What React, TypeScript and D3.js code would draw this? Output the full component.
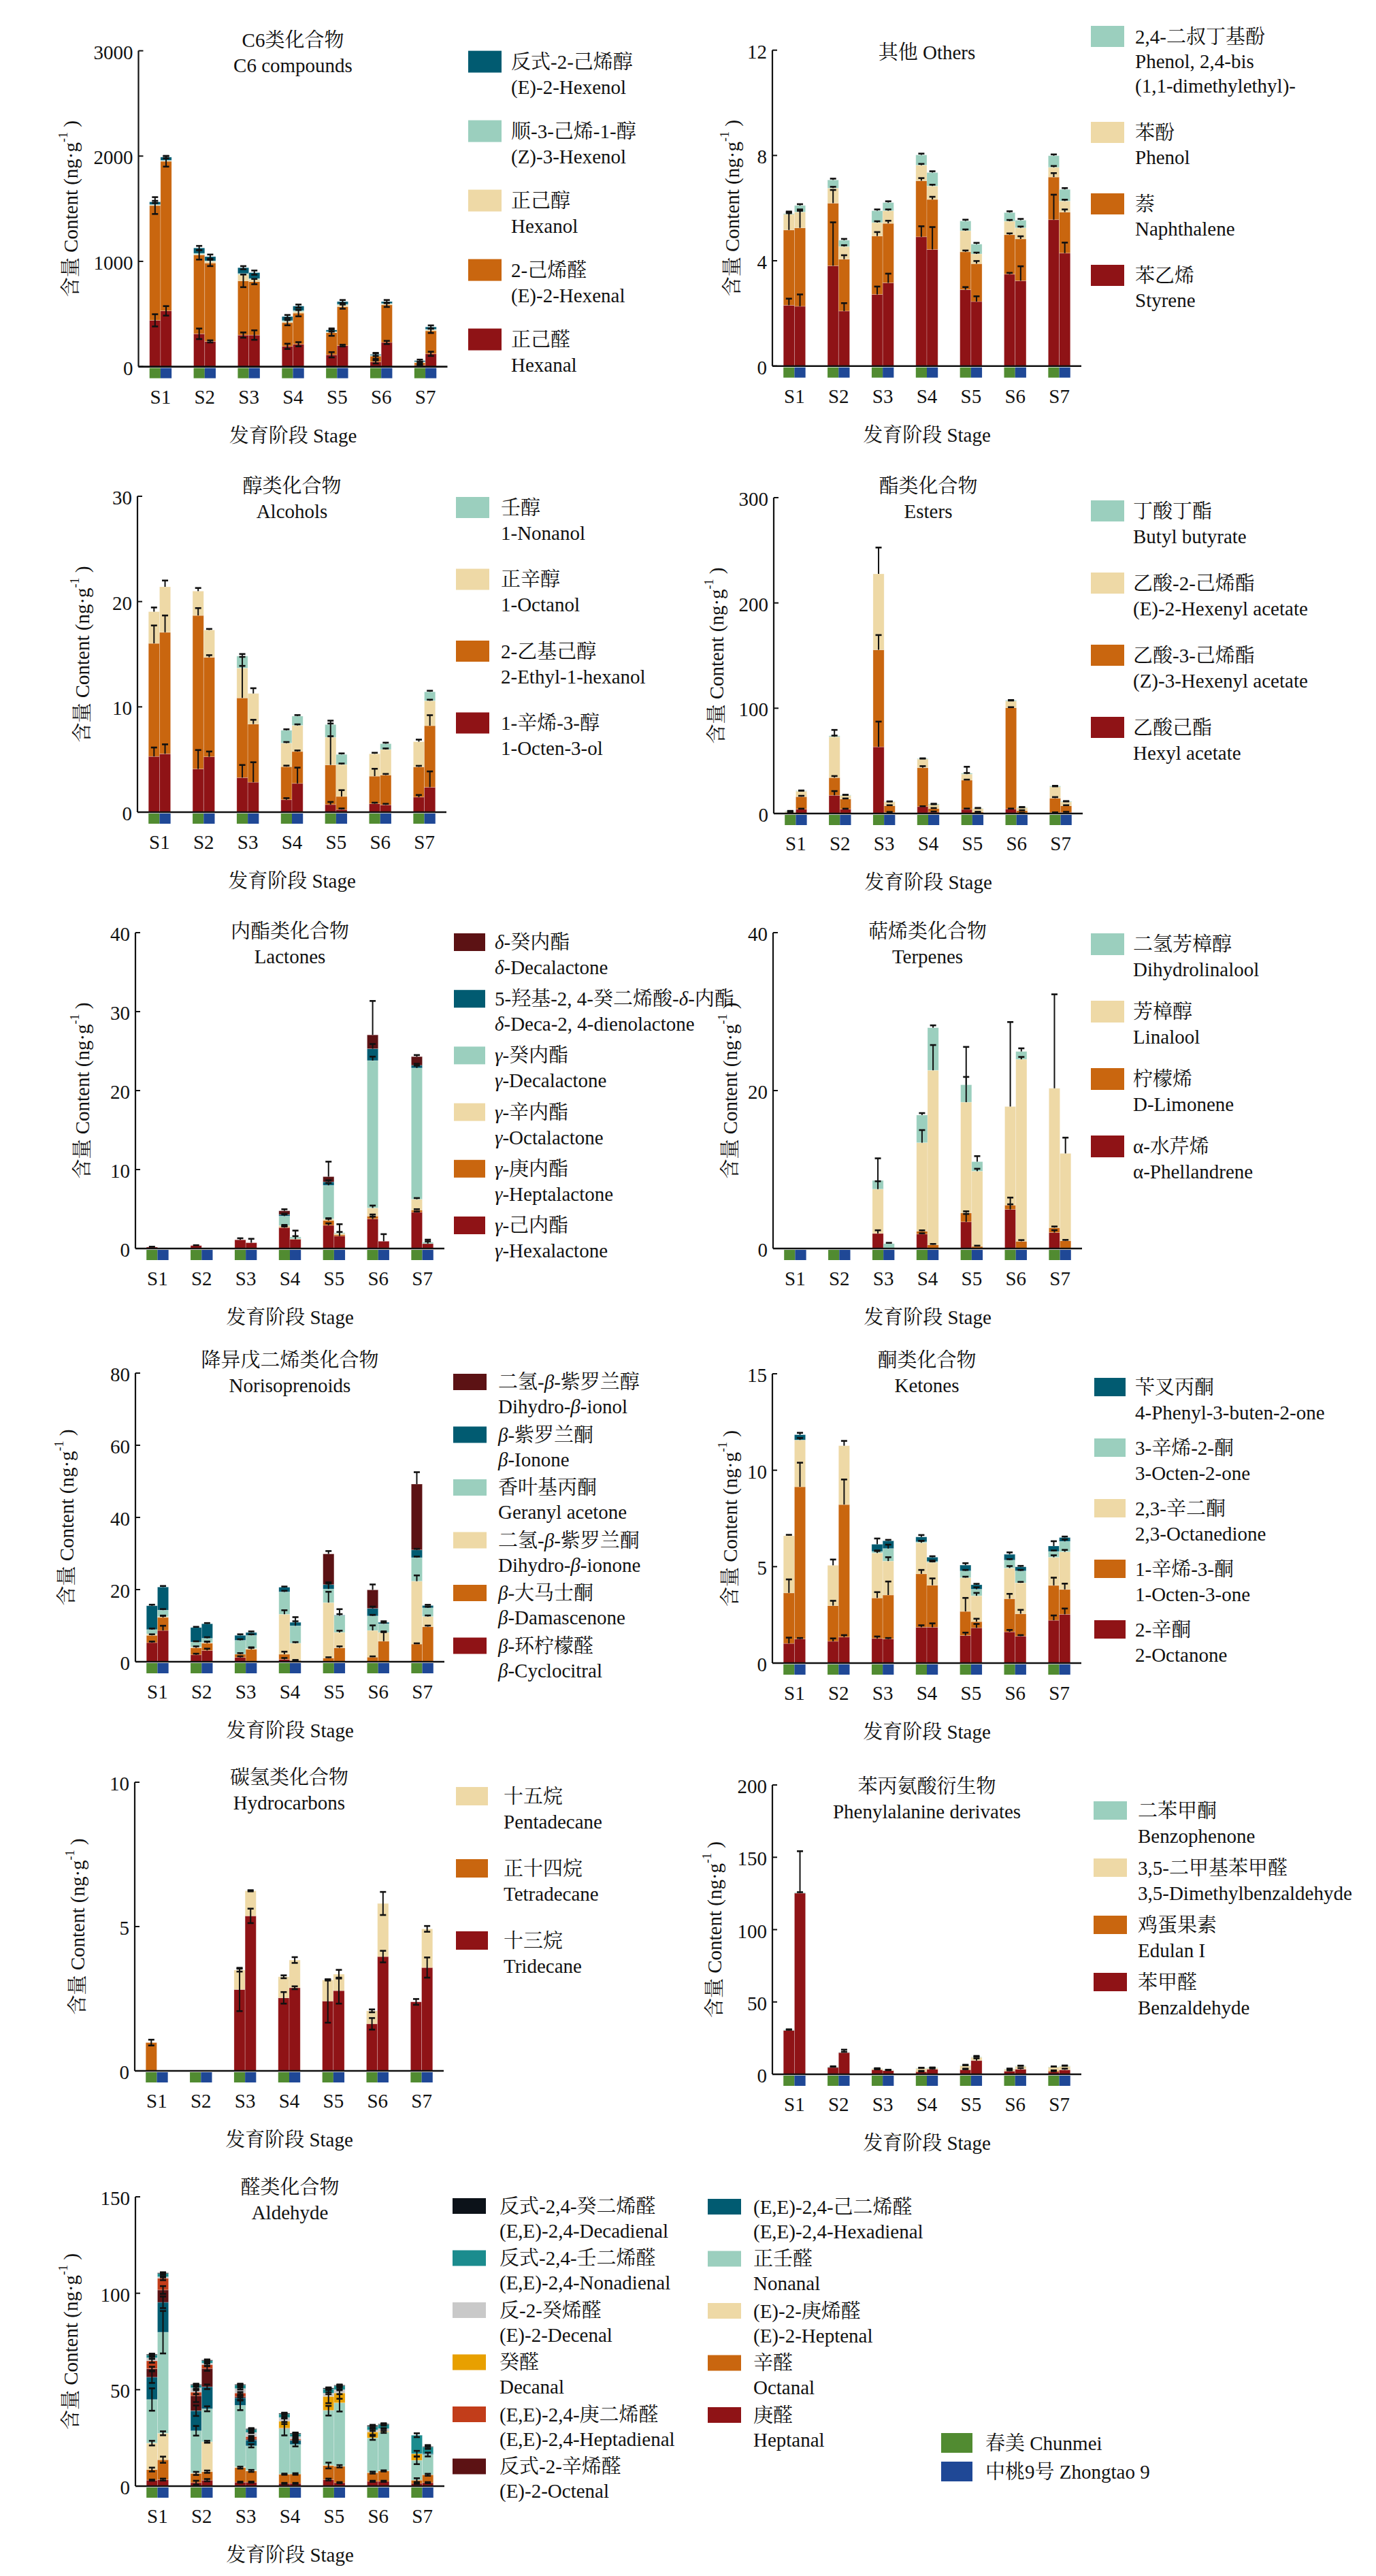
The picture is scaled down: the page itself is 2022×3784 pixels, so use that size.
import { scaleBand, scaleLinear, stack } from "d3";

// 通用颜色
const RED = "#8f1316";
const ORANGE = "#c9660f";
const CREAM = "#eed9a6";
const MINT = "#9bcfbe";
const TEAL = "#015b71";
const MAROON = "#5c1214";

const stages = ["S1", "S2", "S3", "S4", "S5", "S6", "S7"];
const cultivarNames = ["春美 Chunmei", "中桃9号 Zhongtao 9"];
const cultivarColors = ["#518b31", "#1f4896"];
const Z7 = [0, 0, 0, 0, 0, 0, 0];

// C6 compounds (stack order bottom -> top)
const c6Names = ["正己醛", "2-己烯醛", "正己醇", "顺-3-己烯-1-醇", "反式-2-己烯醇"];
const c6English = ["Hexanal", "(E)-2-Hexenal", "Hexanol", "(Z)-3-Hexenol", "(E)-2-Hexenol"];
const c6Colors = [RED, ORANGE, CREAM, MINT, TEAL];
const c6Chunmei = [
  [440, 312, 300, 193, 113, 45, 15],
  [1090, 750, 515, 225, 210, 55, 22],
  [5, 5, 60, 10, 5, 5, 5],
  [5, 10, 10, 10, 5, 3, 5],
  [25, 50, 55, 38, 15, 8, 10],
];
const c6Zhongtao = [
  [530, 240, 300, 213, 200, 230, 122],
  [1420, 745, 508, 295, 370, 357, 218],
  [5, 15, 20, 15, 15, 8, 10],
  [5, 5, 10, 10, 8, 5, 5],
  [30, 40, 55, 42, 25, 18, 22],
];
const c6ErrChunmei = [
  [58, 50, 25, 25, 25, 15, 3],
  [80, 45, 60, 25, 30, 25, 8],
  Z7,
  Z7,
  [10, 20, 15, 15, 15, 15, 10],
];
const c6ErrZhongtao = [
  [45, 10, 45, 20, 8, 15, 20],
  [50, 30, 25, 30, 20, 20, 20],
  Z7,
  Z7,
  [12, 20, 20, 15, 15, 15, 15],
];

// Others
const otNames = ["苯乙烯", "萘", "苯酚", "2,4-二叔丁基酚"];
const otEnglish = ["Styrene", "Naphthalene", "Phenol", "Phenol, 2,4-bis\n(1,1-dimethylethyl)-"];
const otColors = [RED, ORANGE, CREAM, MINT];
const otChunmei = [
  [2.31, 3.81, 2.72, 4.91, 2.9, 3.49, 5.56],
  [2.86, 2.38, 2.22, 2.13, 1.44, 1.5, 1.62],
  [0.59, 0.57, 0.51, 0.59, 0.8, 0.51, 0.37],
  [0.03, 0.31, 0.45, 0.39, 0.37, 0.33, 0.44],
];
const otZhongtao = [
  [2.27, 2.09, 3.16, 4.43, 2.45, 3.24, 4.29],
  [2.98, 1.97, 2.26, 1.9, 1.44, 1.59, 1.56],
  [0.6, 0.48, 0.48, 0.51, 0.37, 0.42, 0.42],
  [0.25, 0.24, 0.31, 0.51, 0.37, 0.29, 0.44],
];
const otErrChunmei = [
  [0.25, 1.65, 0.3, 0.4, 0.1, 0.05, 0.95],
  [0.7, 0.5, 0.15, 0.1, 0.05, 0.05, 0.15],
  [0.05, 0.05, 0.05, 0.05, 0.05, 0.05, 0.05],
  [0.05, 0.05, 0.05, 0.05, 0.05, 0.05, 0.05],
];
const otErrZhongtao = [
  [0.45, 0.3, 0.35, 0.85, 0.2, 0.55, 0.4],
  [0.7, 0.15, 0.1, 0.1, 0.1, 0.1, 0.1],
  [0.05, 0.05, 0.05, 0.05, 0.05, 0.05, 0.05],
  [0.05, 0.05, 0.05, 0.05, 0.05, 0.05, 0.05],
];

// Alcohols
const alNames = ["1-辛烯-3-醇", "2-乙基己醇", "正辛醇", "壬醇"];
const alEnglish = ["1-Octen-3-ol", "2-Ethyl-1-hexanol", "1-Octanol", "1-Nonanol"];
const alColors = [RED, ORANGE, CREAM, MINT];
const alChunmei = [
  [5.29, 4.1, 3.28, 1.18, 0.72, 0.8, 1.43],
  [10.74, 14.58, 7.57, 3.14, 3.77, 2.62, 2.87],
  [3.01, 2.31, 2.84, 2.24, 2.62, 2.12, 2.39],
  [0, 0, 1.13, 1.21, 1.21, 0, 0],
];
const alZhongtao = [
  [5.54, 5.26, 2.84, 2.73, 0.25, 0.69, 2.37],
  [11.54, 9.45, 5.53, 3.03, 1.24, 2.84, 5.84],
  [4.32, 2.59, 2.9, 2.48, 3.03, 2.42, 2.37],
  [0, 0, 0, 0.88, 0.96, 0.55, 0.85],
];
const alErrChunmei = [
  [0.85, 1.8, 1.2, 0.15, 0.25, 0.1, 0.2],
  [1.7, 0.7, 3.9, 0.1, 4.2, 0.7, 0.1],
  [0.4, 0.3, 0.2, 0.1, 0.1, 0.1, 0.2],
  [0, 0, 0.2, 0.1, 0.1, 0, 0],
];
const alErrZhongtao = [
  [0.9, 0.5, 1.9, 1.5, 0.1, 0.1, 1.5],
  [1.6, 0.2, 0.4, 0.1, 0.6, 0.1, 1],
  [0.6, 0.1, 0.5, 0.1, 0.1, 0.1, 0.1],
  [0, 0, 0, 0.1, 0.1, 0.1, 0.1],
];

// Esters
const esNames = ["乙酸己酯", "乙酸-3-己烯酯", "乙酸-2-己烯酯", "丁酸丁酯"];
const esEnglish = ["Hexyl acetate", "(Z)-3-Hexenyl acetate", "(E)-2-Hexenyl acetate", "Butyl butyrate"];
const esColors = [RED, ORANGE, CREAM, MINT];
const esChunmei = [
  [0.5, 17.3, 63.3, 6.6, 3.9, 4.4, 0.8],
  [0.3, 16.8, 92.2, 36.9, 27.8, 96.1, 13.8],
  [1, 38.8, 72.1, 8.2, 5.7, 6.3, 10.7],
  [0.5, 0.9, 0, 0.5, 0.9, 0.8, 0.8],
];
const esZhongtao = [
  [4.1, 4.1, 1, 1.4, 0.5, 0.5, 1.1],
  [11.9, 9.7, 6.4, 3.3, 0.9, 2.3, 6.3],
  [5.2, 3.3, 3.6, 3.6, 3.3, 2.7, 3.6],
  [0.5, 0.5, 0.3, 0.8, 0.3, 0.5, 0.6],
];
const esErrChunmei = [
  [0.2, 4, 24, 0.3, 0.8, 0.3, 0.3],
  [0.2, 1.5, 14, 1.5, 0.5, 0.5, 1],
  [0.3, 6.5, 25, 0.5, 7, 0.5, 0.5],
  [0.2, 0.2, 0, 0.2, 0.2, 0.2, 0.2],
];
const esErrZhongtao = [
  [0.5, 0.5, 0.5, 0.5, 0.3, 0.3, 0.5],
  [0.8, 0.5, 0.5, 0.5, 0.3, 0.3, 0.5],
  [0.5, 0.5, 0.5, 0.5, 0.5, 0.3, 0.5],
  [0.2, 0.2, 0.2, 0.2, 0.2, 0.2, 0.2],
];

// Lactones
const laNames = ["γ-己内酯", "γ-庚内酯", "γ-辛内酯", "γ-癸内酯", "5-羟基-2, 4-癸二烯酸-δ-内酯", "δ-癸内酯"];
const laEnglish = ["γ-Hexalactone", "γ-Heptalactone", "γ-Octalactone", "γ-Decalactone", "δ-Deca-2, 4-dienolactone", "δ-Decalactone"];
const laColors = [RED, ORANGE, CREAM, MINT, TEAL, MAROON];
const laChunmei = [
  [0.18, 0.37, 1.1, 2.64, 2.94, 3.74, 4.59],
  [0, 0, 0, 0.1, 0.62, 0.37, 0.29],
  [0, 0, 0, 0.15, 0.18, 1.03, 1.36],
  [0, 0, 0, 1.22, 4.26, 18.66, 16.62],
  [0, 0, 0, 0.19, 0.44, 1.5, 0.34],
  [0, 0, 0, 0.47, 0.66, 1.75, 1.1],
];
const laZhongtao = [
  [0, 0, 0.73, 1.17, 1.58, 0.92, 0.62],
  [0, 0, 0, 0.05, 0.18, 0, 0],
  [0, 0, 0, 0, 0.14, 0, 0],
  [0, 0, 0, 0.25, 0.1, 0, 0.18],
  Z7,
  Z7,
];
const laErrChunmei = [
  [0.05, 0.05, 0.2, 0.15, 0.25, 0.3, 0.1],
  [0, 0, 0, 0.1, 0.2, 0.2, 0.1],
  [0, 0, 0, 0.1, 0.1, 0.3, 0.15],
  [0, 0, 0, 0.2, 0.3, 0.5, 0.3],
  [0, 0, 0, 0.1, 0.2, 0.6, 0.2],
  [0, 0, 0, 0.2, 1.9, 4.3, 0.2],
];
const laErrZhongtao = [
  [0, 0, 0.5, 1.1, 1.5, 0.9, 0.5],
  Z7,
  Z7,
  [0, 0, 0, 0.1, 0.1, 0, 0.1],
  Z7,
  Z7,
];

// Terpenes
const teNames = ["α-水芹烯", "柠檬烯", "芳樟醇", "二氢芳樟醇"];
const teEnglish = ["α-Phellandrene", "D-Limonene", "Linalool", "Dihydrolinalool"];
const teColors = [RED, ORANGE, CREAM, MINT];
const teChunmei = [
  [0, 0, 1.91, 1.83, 3.38, 4.95, 2.02],
  [0, 0, 0, 0.37, 1.13, 0.55, 0.62],
  [0, 0, 5.61, 11.2, 14.02, 12.48, 17.65],
  [0, 0, 1.1, 3.5, 2.2, 0, 0],
];
const teZhongtao = [
  Z7,
  [0, 0, 0, 0.48, 0.26, 0.92, 0.99],
  [0, 0, 0, 22.09, 9.54, 23.04, 11.05],
  [0, 0, 0.62, 5.39, 1.2, 0.99, 0],
];
const teErrChunmei = [
  [0, 0, 0.4, 0.1, 1, 1.5, 0.3],
  [0, 0, 0, 0.1, 0.2, 0.1, 0.15],
  [0, 0, 1, 1.6, 3.2, 10.7, 11.9],
  [0, 0, 2.8, 0.25, 4.8, 0, 0],
];
const teErrZhongtao = [
  Z7,
  [0, 0, 0, 0.1, 0.1, 0.15, 0.1],
  [0, 0, 0, 3.2, 0.3, 0.3, 2],
  [0, 0, 0.1, 0.3, 0.7, 0.4, 0],
];

// Norisoprenoids
const noNames = ["β-环柠檬醛", "β-大马士酮", "二氢-β-紫罗兰酮", "香叶基丙酮", "β-紫罗兰酮", "二氢-β-紫罗兰醇"];
const noEnglish = ["β-Cyclocitral", "β-Damascenone", "Dihydro-β-ionone", "Geranyl acetone", "β-Ionone", "Dihydro-β-ionol"];
const noColors = [RED, ORANGE, CREAM, MINT, TEAL, MAROON];
const noChunmei = [
  [5.3, 1.93, 1.2, 0.64, 0, 0, 0],
  [2.01, 1.93, 0.89, 1.45, 1.04, 1.29, 4.9],
  [0.4, 0.24, 0, 11.08, 15.35, 7.38, 17.43],
  [1.2, 1.36, 3.85, 6.19, 3.77, 4.02, 6.51],
  [6.6, 4.02, 1.37, 1.28, 1.21, 2.09, 2.16],
  [0, 0, 0, 0, 8.51, 5.14, 18.24],
];
const noZhongtao = [
  [8.67, 3.13, 0, 0.24, 0, 0, 0],
  [3.62, 2.01, 3.45, 0.16, 3.86, 5.7, 9.72],
  [0.21, 0.16, 0.25, 4.74, 4.25, 2.41, 2.81],
  [1.8, 1.2, 3.61, 4.82, 4.66, 2.41, 2.41],
  [6.4, 4.02, 0.79, 0.96, 0.13, 0.4, 0.64],
  Z7,
];
const noErrChunmei = [
  [0.3, 0.3, 0.3, 0.4, 0, 0, 0],
  [0.3, 0.4, 0.3, 0.7, 0.2, 0.2, 0.2],
  [0, 0, 0, 1.1, 3, 1.4, 1.6],
  [0.3, 0.2, 0.3, 0.3, 1.85, 0.3, 0.3],
  [0.3, 0.2, 0.3, 0.2, 0.3, 0.5, 0.3],
  [0, 0, 0, 0, 0.8, 1.5, 3.3],
];
const noErrZhongtao = [
  [1.3, 0.5, 0, 0.1, 0, 0, 0],
  [0.4, 0.4, 0.4, 0.1, 0.4, 2.5, 0.3],
  [0.3, 0.3, 0.3, 0.3, 0.5, 0.3, 0.3],
  [0.3, 0.3, 0.3, 2.4, 1.8, 0.3, 0.3],
  [0.3, 0.2, 0.3, 0.3, 0.3, 0.3, 0.2],
  Z7,
];

// Ketones
const keNames = ["2-辛酮", "1-辛烯-3-酮", "2,3-辛二酮", "3-辛烯-2-酮", "苄叉丙酮"];
const keEnglish = ["2-Octanone", "1-Octen-3-one", "2,3-Octanedione", "3-Octen-2-one", "4-Phenyl-3-buten-2-one"];
const keColors = [RED, ORANGE, CREAM, MINT, TEAL];
const keChunmei = [
  [1.02, 1.13, 1.28, 1.86, 1.43, 1.62, 2.22],
  [2.62, 1.85, 2.1, 2.77, 1.25, 1.72, 1.81],
  [2.96, 2.09, 2.33, 1.61, 1.75, 1.59, 1.46],
  [0, 0, 0.08, 0.05, 0.35, 0.41, 0.3],
  [0, 0, 0.37, 0.25, 0.3, 0.3, 0.28],
];
const keZhongtao = [
  [1.25, 1.35, 1.25, 1.86, 1.83, 1.4, 2.53],
  [7.89, 6.87, 2.28, 2.18, 0.32, 1.16, 1.29],
  [2.43, 3.05, 1.76, 1.18, 1.34, 1.6, 1.95],
  [0, 0, 0.65, 0.05, 0.34, 0.62, 0.54],
  [0.27, 0, 0.4, 0.22, 0.23, 0.21, 0.2],
];
const keErrChunmei = [
  [0.3, 0.15, 0.1, 0.1, 0.15, 0.1, 0.25],
  [0.7, 0.25, 0.3, 0.2, 0.7, 0.25, 0.4],
  [0.05, 0.3, 0.1, 0.1, 0.05, 0.1, 0.1],
  [0, 0, 0.05, 0.05, 0.05, 0.05, 0.05],
  [0, 0, 0.3, 0.1, 0.1, 0.1, 0.25],
];
const keErrZhongtao = [
  [0.05, 0.1, 0.05, 0.2, 0.2, 0.05, 0.3],
  [1.25, 1.3, 0.7, 0.35, 0.15, 0.2, 0.3],
  [0.1, 0.25, 0.2, 0.05, 0.15, 0.05, 0.1],
  [0, 0, 0.2, 0.05, 0.1, 0.05, 0.1],
  [0.1, 0, 0.05, 0.05, 0.05, 0.05, 0.05],
];

// Hydrocarbons
const hyNames = ["十三烷", "正十四烷", "十五烷"];
const hyEnglish = ["Tridecane", "Tetradecane", "Pentadecane"];
const hyColors = [RED, ORANGE, CREAM];
const hyChunmei = [
  [0, 0, 2.82, 2.53, 2.42, 1.63, 2.39],
  [0.98, 0, 0, 0, 0, 0, 0],
  [0, 0, 0.67, 0.73, 0.73, 0.45, 0],
];
const hyZhongtao = [
  [0, 0, 5.37, 2.88, 2.78, 3.96, 3.58],
  Z7,
  [0, 0, 0.87, 0.96, 0.57, 1.84, 1.34],
];
const hyErrChunmei = [
  [0, 0, 0.75, 0.2, 0.75, 0.2, 0.1],
  [0.1, 0, 0, 0, 0, 0, 0],
  [0, 0, 0.05, 0.05, 0.02, 0.05, 0],
];
const hyErrZhongtao = [
  [0, 0, 0.25, 0.05, 0.45, 0.2, 0.35],
  Z7,
  [0, 0, 0.02, 0.1, 0.15, 0.4, 0.1],
];

// Phenylalanine derivates
const phNames = ["苯甲醛", "鸡蛋果素", "3,5-二甲基苯甲醛", "二苯甲酮"];
const phEnglish = ["Benzaldehyde", "Edulan I", "3,5-Dimethylbenzaldehyde", "Benzophenone"];
const phColors = [RED, ORANGE, CREAM, MINT];
const phChunmei = [
  [30.3, 4.7, 3.1, 1.6, 3.1, 2.2, 1.6],
  [0, 0, 0.3, 0.6, 0.3, 0, 0.9],
  [0, 0, 0.5, 1.8, 2.4, 1.3, 2.4],
  [0.5, 0.5, 0.2, 0.3, 0.3, 0.2, 0.3],
];
const phZhongtao = [
  [125.2, 15, 2.55, 3.5, 9.5, 3.5, 3.1],
  Z7,
  [0, 0, 0.3, 0.8, 2.2, 2, 2.4],
  [0.5, 0.3, 0.2, 0.3, 0.3, 0.3, 0.3],
];
const phErrChunmei = [
  [0.5, 0.5, 0.4, 0.3, 0.8, 0.5, 0.5],
  [0, 0, 0.1, 0.2, 0.1, 0, 0.2],
  [0, 0, 0.2, 0.5, 0.8, 0.4, 0.5],
  [0.3, 0.3, 0.1, 0.1, 0.1, 0.1, 0.1],
];
const phErrZhongtao = [
  [29, 2, 0.3, 0.5, 1.5, 0.8, 0.8],
  Z7,
  [0, 0, 0.1, 0.3, 1, 0.5, 0.6],
  [0.2, 0.2, 0.1, 0.1, 0.1, 0.1, 0.1],
];

// Aldehyde
const adNames = ["庚醛", "辛醛", "(E)-2-庚烯醛", "正壬醛", "(E,E)-2,4-己二烯醛", "反式-2-辛烯醛", "(E,E)-2,4-庚二烯醛", "癸醛", "反-2-癸烯醛", "反式-2,4-壬二烯醛", "反式-2,4-癸二烯醛"];
const adEnglish = ["Heptanal", "Octanal", "(E)-2-Heptenal", "Nonanal", "(E,E)-2,4-Hexadienal", "(E)-2-Octenal", "(E,E)-2,4-Heptadienal", "Decanal", "(E)-2-Decenal", "(E,E)-2,4-Nonadienal", "(E,E)-2,4-Decadienal"];
const adColors = [RED, ORANGE, CREAM, MINT, TEAL, MAROON, "#c23d1a", "#e8a000", "#c9c9c9", "#1b8c8e", "#0c1219"];
const adChunmei = [
  [3.1, 1.8, 2.05, 1.4, 3.4, 2.5, 1.4],
  [5.5, 4.8, 7.55, 4.8, 7.3, 4.5, 1.7],
  [13.7, 0.2, 0.4, 0.1, 0.2, 0.1, 0],
  [22.6, 21.9, 31.9, 23.5, 28.2, 17.9, 10.3],
  [11.6, 10.4, 3.9, 0.1, 0.2, 0, 0],
  [4.4, 7.8, 0.7, 0.1, 0, 0, 0],
  [4.1, 1.8, 1.8, 0.1, 0, 0, 0],
  [0, 0, 0, 3.6, 7.2, 3.1, 3.4],
  [1.5, 2.3, 2.3, 1.9, 1.7, 1, 0],
  [1.4, 1.4, 1.8, 1.8, 2.2, 1.8, 9.6],
  [0.5, 0.4, 0.4, 0.4, 0.5, 0.6, 0],
];
const adZhongtao = [
  [3.4, 3.1, 2.05, 1.4, 1.8, 2.5, 1.8],
  [10.3, 4.4, 5.85, 4.9, 8.5, 5.4, 4.1],
  [13.7, 15.5, 0.3, 0, 0.1, 0.1, 0],
  [52.4, 17.1, 12.7, 15.3, 32.8, 20.1, 10.5],
  [15.5, 11.4, 3, 2.1, 0, 0, 0.5],
  [6.4, 9.5, 0.5, 0.2, 0, 0, 0],
  [6.1, 2, 1.3, 0.5, 0, 0, 0],
  [0, 0, 0, 0, 5.1, 0.4, 0],
  [0.7, 0.8, 2.1, 1.3, 1.7, 1.3, 0],
  [1.7, 1.2, 1.6, 1.4, 2, 2.1, 3.4],
  [0.4, 0.4, 0.4, 0.4, 0.4, 0.4, 0.3],
];
const adErrChunmei = [
  [0.3, 1, 0.3, 0.3, 0.5, 0.3, 0.3],
  [1, 0.8, 0.5, 0.3, 1.5, 0.5, 1],
  [1.2, 0, 0, 0, 0, 0, 0],
  [5.8, 2.5, 2.5, 3.5, 2.5, 1, 2],
  [3, 2.7, 1, 0, 0, 0, 0],
  [1, 3.3, 0.5, 0, 0, 0, 0],
  [1, 1, 0.5, 0, 0, 0, 0],
  [0, 0, 0, 1.5, 3.5, 1.5, 1.5],
  [0.5, 0.5, 0.5, 0.5, 0.5, 0.5, 0],
  [0.5, 0.5, 0.5, 0.5, 0.5, 0.5, 1],
  [0.3, 0.3, 0.3, 0.3, 0.3, 0.3, 0],
];
const adErrZhongtao = [
  [0.5, 0.6, 0.3, 0.3, 0.3, 0.3, 0.3],
  [1.6, 0.6, 0.5, 0.4, 0.6, 0.3, 0.5],
  [1, 0.5, 0, 0, 0, 0, 0],
  [11, 1.3, 0.8, 1, 4.5, 0.5, 1],
  [3, 1.2, 0.5, 0.3, 0, 0, 0],
  [2, 1.2, 0.3, 0, 0, 0, 0],
  [1, 0.6, 0.3, 0.3, 0, 0, 0],
  [0, 0, 0, 0, 3, 0, 0],
  [0.3, 0.3, 0.3, 0.3, 0.3, 0.3, 0],
  [0.5, 0.5, 0.5, 0.5, 0.5, 0.5, 1],
  [0.3, 0.3, 0.3, 0.3, 0.3, 0.3, 0.3],
];

// ---------- layout ----------
const FONT = "'Liberation Serif','Times New Roman','Noto Serif CJK SC','Noto Sans CJK SC',serif";
const FS = 29;
const AXIS_W = 454;
const LINE_H = 37;

type Legend = { cols: { x: number; y: number; tx: number }[]; perCol: number; step: number; w: number; h: number; lineH?: number };
type PanelCfg = {
  names: string[]; english: string[]; colors: string[];
  chunmei: number[][]; zhongtao: number[][]; errC: number[][]; errZ: number[][];
  x: number; top: number; zero: number; max: number; ticks: number[];
  title: string[]; titleY: number; labelDx: number; err: "up" | "both"; legend: Legend;
};

const panels: PanelCfg[] = [
  { names: c6Names, english: c6English, colors: c6Colors, chunmei: c6Chunmei, zhongtao: c6Zhongtao, errC: c6ErrChunmei, errZ: c6ErrZhongtao,
    x: 203.5, top: 74.6, zero: 538.6, max: 3000, ticks: [0, 1000, 2000, 3000], title: ["C6类化合物", "C6 compounds"], titleY: 59, labelDx: 100, err: "both",
    legend: { cols: [{ x: 688, y: 74.6, tx: 751 }], perCol: 9, step: 102, w: 49, h: 32 } },
  { names: otNames, english: otEnglish, colors: otColors, chunmei: otChunmei, zhongtao: otZhongtao, errC: otErrChunmei, errZ: otErrZhongtao,
    x: 1135, top: 73.7, zero: 537.7, max: 12, ticks: [0, 4, 8, 12], title: ["其他 Others"], titleY: 77, labelDx: 59, err: "up",
    legend: { cols: [{ x: 1603, y: 38, tx: 1668 }], perCol: 9, step: 105, w: 49, h: 31, lineH: 36 } },
  { names: alNames, english: alEnglish, colors: alColors, chunmei: alChunmei, zhongtao: alZhongtao, errC: alErrChunmei, errZ: alErrZhongtao,
    x: 202, top: 729, zero: 1193, max: 30, ticks: [0, 10, 20, 30], title: ["醇类化合物", "Alcohols"], titleY: 714, labelDx: 81, err: "up",
    legend: { cols: [{ x: 670, y: 730, tx: 736 }], perCol: 9, step: 105.5, w: 49, h: 31 } },
  { names: esNames, english: esEnglish, colors: esColors, chunmei: esChunmei, zhongtao: esZhongtao, errC: esErrChunmei, errZ: esErrZhongtao,
    x: 1137, top: 731, zero: 1195, max: 300, ticks: [0, 100, 200, 300], title: ["酯类化合物", "Esters"], titleY: 714, labelDx: 84, err: "up",
    legend: { cols: [{ x: 1603, y: 735, tx: 1665 }], perCol: 9, step: 106, w: 49, h: 31 } },
  { names: laNames, english: laEnglish, colors: laColors, chunmei: laChunmei, zhongtao: laZhongtao, errC: laErrChunmei, errZ: laErrZhongtao,
    x: 199, top: 1370, zero: 1834, max: 40, ticks: [0, 10, 20, 30, 40], title: ["内酯类化合物", "Lactones"], titleY: 1368, labelDx: 78, err: "up",
    legend: { cols: [{ x: 667, y: 1371, tx: 727 }], perCol: 9, step: 83.2, w: 46, h: 26 } },
  { names: teNames, english: teEnglish, colors: teColors, chunmei: teChunmei, zhongtao: teZhongtao, errC: teErrChunmei, errZ: teErrZhongtao,
    x: 1136, top: 1370, zero: 1834, max: 40, ticks: [0, 20, 40], title: ["萜烯类化合物", "Terpenes"], titleY: 1368, labelDx: 63, err: "up",
    legend: { cols: [{ x: 1603, y: 1371, tx: 1665 }], perCol: 9, step: 99, w: 49, h: 32 } },
  { names: noNames, english: noEnglish, colors: noColors, chunmei: noChunmei, zhongtao: noZhongtao, errC: noErrChunmei, errZ: noErrZhongtao,
    x: 199, top: 2017, zero: 2441, max: 80, ticks: [0, 20, 40, 60, 80], title: ["降异戊二烯类化合物", "Norisoprenoids"], titleY: 1998, labelDx: 101, err: "up",
    legend: { cols: [{ x: 666, y: 2018, tx: 732 }], perCol: 9, step: 77.5, w: 49, h: 24, lineH: 36 } },
  { names: keNames, english: keEnglish, colors: keColors, chunmei: keChunmei, zhongtao: keZhongtao, errC: keErrChunmei, errZ: keErrZhongtao,
    x: 1135, top: 2018, zero: 2443, max: 15, ticks: [0, 5, 10, 15], title: ["酮类化合物", "Ketones"], titleY: 1998, labelDx: 62, err: "up",
    legend: { cols: [{ x: 1608, y: 2024, tx: 1668 }], perCol: 9, step: 89, w: 46, h: 27 } },
  { names: hyNames, english: hyEnglish, colors: hyColors, chunmei: hyChunmei, zhongtao: hyZhongtao, errC: hyErrChunmei, errZ: hyErrZhongtao,
    x: 198, top: 2618, zero: 3042, max: 10, ticks: [0, 5, 10], title: ["碳氢类化合物", "Hydrocarbons"], titleY: 2611, labelDx: 84, err: "both",
    legend: { cols: [{ x: 670, y: 2625, tx: 740 }], perCol: 9, step: 106, w: 47, h: 27 } },
  { names: phNames, english: phEnglish, colors: phColors, chunmei: phChunmei, zhongtao: phZhongtao, errC: phErrChunmei, errZ: phErrZhongtao,
    x: 1135, top: 2622, zero: 3047, max: 200, ticks: [0, 50, 100, 150, 200], title: ["苯丙氨酸衍生物", "Phenylalanine derivates"], titleY: 2624, labelDx: 85, err: "up",
    legend: { cols: [{ x: 1607, y: 2646, tx: 1672 }], perCol: 9, step: 84, w: 49, h: 27 } },
  { names: adNames, english: adEnglish, colors: adColors, chunmei: adChunmei, zhongtao: adZhongtao, errC: adErrChunmei, errZ: adErrZhongtao,
    x: 199, top: 3227, zero: 3652, max: 150, ticks: [0, 50, 100, 150], title: ["醛类化合物", "Aldehyde"], titleY: 3213, labelDx: 95, err: "both",
    legend: { cols: [{ x: 665, y: 3229, tx: 734 }, { x: 1040, y: 3230, tx: 1107 }], perCol: 6, step: 76.5, w: 49, h: 23, lineH: 36 } },
];

// 希腊字母斜体
function Rich({ s }: { s: string }) {
  const parts = s.split(/([βγδ])/);
  return (
    <>
      {parts.map((t, i) =>
        /[βγδ]/.test(t) ? (
          <tspan key={i} fontStyle="italic">{t}</tspan>
        ) : (
          <tspan key={i}>{t}</tspan>
        )
      )}
    </>
  );
}

function Panel({ p }: { p: PanelCfg }) {
  const y = scaleLinear().domain([0, p.max]).range([p.zero, p.top]);
  const x = scaleBand<string>().domain(stages).range([p.x, p.x + AXIS_W]).paddingInner(0.5).paddingOuter(0.25);
  const bw = x.bandwidth() / 2;
  const groups = [p.chunmei, p.zhongtao];
  const errs = [p.errC, p.errZ];
  const keys = p.colors.map((_, j) => j);
  const stacked = groups.map((g) =>
    stack<any, any, number>()
      .keys(keys)(stages.map((_, i) => Object.fromEntries(keys.map((j) => [j, g[j][i]]))))
  );
  const cx0 = p.x + AXIS_W / 2;
  const midY = (p.top + p.zero) / 2;

  // legend layout
  const order = keys.slice().reverse();
  const lh = p.legend.lineH ?? LINE_H;
  const legendItems: { j: number; x: number; y: number; tx: number; lines: string[] }[] = [];
  let curY = 0;
  order.forEach((j, idx) => {
    const col = Math.floor(idx / p.legend.perCol);
    const c = p.legend.cols[col];
    if (idx % p.legend.perCol === 0) curY = c.y;
    const lines = [p.names[j], ...p.english[j].split("\n")];
    legendItems.push({ j, x: c.x, y: curY, tx: c.tx, lines });
    curY += p.legend.step + (lines.length - 2) * lh;
  });

  return (
    <g>
      {/* bars */}
      {stacked.map((series, k) =>
        series.map((ser, j) =>
          ser.map((d, i) => {
            const v = groups[k][j][i];
            if (!v) return null;
            return (
              <rect
                key={`r${k}-${j}-${i}`}
                x={(x(stages[i]) ?? 0) + k * bw}
                y={y(d[1])}
                width={bw}
                height={y(d[0]) - y(d[1])}
                fill={p.colors[j]}
                stroke="#ffffff"
                strokeOpacity={0.3}
                strokeWidth={0.8}
              />
            );
          })
        )
      )}
      {/* error bars */}
      {stacked.map((series, k) =>
        series.map((ser, j) =>
          ser.map((d, i) => {
            const v = groups[k][j][i];
            const e = errs[k][j][i];
            if (!v || !e) return null;
            const cx = (x(stages[i]) ?? 0) + k * bw + bw / 2;
            const hi = y(d[1] + e);
            const lo = p.err === "both" ? y(Math.max(0, d[1] - e)) : y(d[1]);
            return (
              <g key={`e${k}-${j}-${i}`} stroke="#111" strokeWidth={2}>
                <line x1={cx} x2={cx} y1={lo} y2={hi} />
                <line x1={cx - 4.5} x2={cx + 4.5} y1={hi} y2={hi} strokeWidth={2.6} />
                {p.err === "both" && <line x1={cx - 4.5} x2={cx + 4.5} y1={lo} y2={lo} strokeWidth={2.6} />}
              </g>
            );
          })
        )
      )}
      {/* cultivar markers below axis */}
      {stages.map((s) =>
        cultivarColors.map((c, k) => (
          <rect key={`m${s}${k}`} x={(x(s) ?? 0) + k * bw} y={p.zero + 2} width={bw} height={15} fill={c} />
        ))
      )}
      {/* axes */}
      <line x1={p.x} x2={p.x} y1={p.top} y2={p.zero} stroke="#111" strokeWidth={2.2} />
      <line x1={p.x} x2={p.x + AXIS_W} y1={p.zero} y2={p.zero} stroke="#111" strokeWidth={2.6} />
      {p.ticks.map((t) => (
        <g key={`t${t}`}>
          <line x1={p.x} x2={p.x + 7} y1={y(t)} y2={y(t)} stroke="#111" strokeWidth={2} />
          <text x={p.x - 8} y={y(t) + 2} textAnchor="end" dominantBaseline="central" fontSize={FS}>
            {t}
          </text>
        </g>
      ))}
      {stages.map((s) => (
        <text key={`s${s}`} x={(x(s) ?? 0) + x.bandwidth() / 2} y={p.zero + 44} textAnchor="middle" dominantBaseline="central" fontSize={FS}>
          {s}
        </text>
      ))}
      <text x={cx0} y={p.zero + 101} textAnchor="middle" dominantBaseline="central" fontSize={FS}>
        发育阶段 Stage
      </text>
      <text transform={`translate(${p.x - p.labelDx},${midY}) rotate(-90)`} textAnchor="middle" dominantBaseline="central" fontSize={FS}>
        含量 Content (ng·g<tspan dy={-11} fontSize={18}>-1</tspan>
        <tspan dy={11}> )</tspan>
      </text>
      {p.title.map((t, i) => (
        <text key={`ti${i}`} x={cx0} y={p.titleY + i * LINE_H} textAnchor="middle" dominantBaseline="central" fontSize={FS}>
          {t}
        </text>
      ))}
      {/* legend */}
      {legendItems.map((it) => (
        <g key={`l${it.j}`}>
          <rect x={it.x} y={it.y} width={p.legend.w} height={p.legend.h} fill={p.colors[it.j]} />
          {it.lines.map((ln, li) => (
            <text key={li} x={it.tx} y={it.y + p.legend.h / 2 + li * lh} dominantBaseline="central" fontSize={FS}>
              <Rich s={ln} />
            </text>
          ))}
        </g>
      ))}
    </g>
  );
}

export default function App() {
  return (
    <svg
      width={2022}
      height={3784}
      viewBox="0 0 2022 3784"
      style={{ position: "absolute", left: 0, top: 0, background: "#fff" }}
      fontFamily={FONT}
      fill="#111"
    >
      <rect x={0} y={0} width={2022} height={3784} fill="#fff" />
      {panels.map((p, i) => (
        <Panel key={i} p={p} />
      ))}
      {cultivarNames.map((n, k) => (
        <g key={n}>
          <rect x={1383} y={3574 + k * 42} width={46} height={29} fill={cultivarColors[k]} />
          <text x={1448} y={3588.5 + k * 42} dominantBaseline="central" fontSize={FS}>
            {n}
          </text>
        </g>
      ))}
    </svg>
  );
}
